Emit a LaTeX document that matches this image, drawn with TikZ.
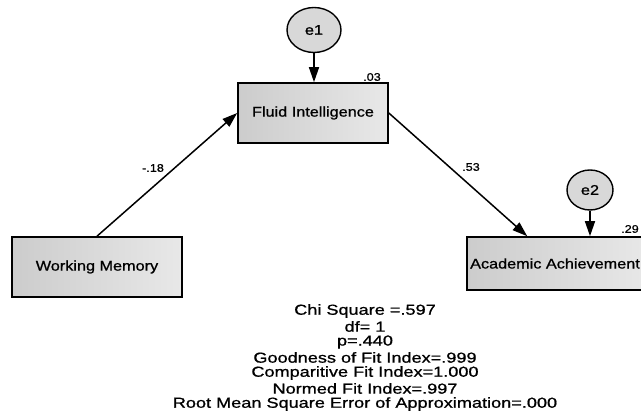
\documentclass[tikz,border=0pt]{standalone}
\usepackage{fontspec}
\setmainfont[FakeBold=0.8]{Liberation Sans}
\usetikzlibrary{arrows.meta,shapes.geometric}
\definecolor{boxdark}{RGB}{204,204,204}
\definecolor{boxlight}{RGB}{232,232,232}
\definecolor{errfill}{RGB}{216,216,216}
\newcommand{\boxtxt}[1]{{\fontsize{14}{16}\selectfont\scalebox{1.16}[1]{#1}}}
\newcommand{\smalltxt}[1]{{\fontsize{11}{12}\selectfont\scalebox{1.15}[1]{#1}}}
\newcommand{\stattxt}[1]{{\fontsize{14.5}{15.5}\selectfont\scalebox{1.25}[1]{#1}}}
\tikzset{
  varbox/.style={draw=black, line width=1.6pt, left color=boxdark, right color=boxlight,
    inner sep=0pt, anchor=center},
  errnode/.style={draw=black, line width=1.4pt, fill=errfill, ellipse, inner sep=0pt},
  conn/.style={line width=1.5pt, -{Triangle[length=15pt,width=10pt]}},
  lbl/.style={inner sep=0pt},
}
\begin{document}
\begin{tikzpicture}[x=1pt,y=-1pt]
\useasboundingbox (0,0) rectangle (641,411);
\clip (0,0) rectangle (641,411);

\node[varbox, minimum width=150pt, minimum height=60pt] (fi) at (313,113) {\boxtxt{Fluid Intelligence}};
\node[varbox, minimum width=170pt, minimum height=60pt] (wm) at (97,267) {\boxtxt{Working Memory}};
\node[varbox, minimum width=181pt, minimum height=53pt] (aa) at (557.5,263.5) {};
\node[inner sep=0pt] (aatext) at (555,263.5) {\boxtxt{Academic Achievement}};

\node[errnode, minimum width=54pt, minimum height=45pt] (e1) at (314,30) {\boxtxt{e1}};
\node[errnode, minimum width=46pt, minimum height=40pt] (e2) at (590,190) {\boxtxt{e2}};

\coordinate (aatop) at ([xshift=61pt]aa.north west);

\draw[conn] (e1.south) -- (e1.south |- fi.north);
\draw[conn] (e2.south) -- (e2.south |- aa.north);
\draw[conn] (wm.north) -- (fi.west);
\draw[conn] (fi.east) -- (aatop);

\node[lbl] (r1) at (372,77) {\smalltxt{.03}};
\node[lbl] (r2) at (630,229) {\smalltxt{.29}};
\node[lbl] (c1) at (153,168) {\smalltxt{-.18}};
\node[lbl] (c2) at (471,167) {\smalltxt{.53}};

\node[lbl] (s1) at (365,311) {\stattxt{Chi Square =.597}};
\node[lbl] (s2) at (365,326.5) {\stattxt{df= 1}};
\node[lbl] (s3) at (365,342) {\stattxt{p=.440}};
\node[lbl] (s4) at (365,357.5) {\stattxt{Goodness of Fit Index=.999}};
\node[lbl] (s5) at (365,373) {\stattxt{Comparitive Fit Index=1.000}};
\node[lbl] (s6) at (365,388.5) {\stattxt{Normed Fit Index=.997}};
\node[lbl] (s7) at (365,404) {\stattxt{Root Mean Square Error of Approximation=.000}};
\end{tikzpicture}
\end{document}
